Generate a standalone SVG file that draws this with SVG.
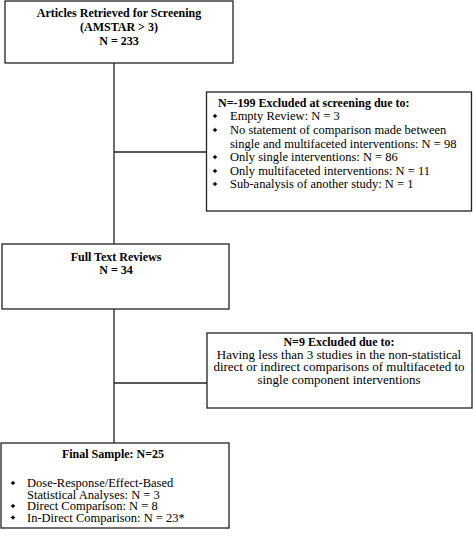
<svg xmlns="http://www.w3.org/2000/svg" width="473" height="537" viewBox="0 0 473 537">
<style>
.box{fill:#fff;stroke:#222;stroke-width:1.3}
.ln{fill:none;stroke:#222;stroke-width:1.3}
text{font-family:"Liberation Serif","Times New Roman",serif;font-size:12.5px;fill:#000}
.b{font-weight:bold;font-size:12px}
.c{text-anchor:middle}
.m{font-size:13px}
.bul{fill:#000}
</style>
<defs>
<path id="bu" d="M0,-2.6 L0.9,-0.9 L2.6,0 L0.9,0.9 L0,2.6 L-0.9,0.9 L-2.6,0 L-0.9,-0.9 Z"/>
</defs>
<g id="connectors">
<path class="ln" d="M114,63 V244 M114,152 H206.5 M114,309 V443 M114,383 H207"/>
</g>
<g id="n1">
<rect class="box" x="5" y="1" width="228" height="62"/>
<text class="b c" x="119" y="17">Articles Retrieved for Screening</text>
<text class="b c" x="119" y="31">(AMSTAR &gt; 3)</text>
<text class="b c" x="119" y="45">N = 233</text>
</g>
<g id="n2">
<rect class="box" x="206.5" y="92" width="265" height="119"/>
<text class="b" x="218" y="107">N=-199 Excluded at screening due to:</text>
<use href="#bu" class="bul" x="215" y="116"/>
<text x="230" y="120">Empty Review: N = 3</text>
<use href="#bu" class="bul" x="215" y="130"/>
<text x="230" y="134">No statement of comparison made between</text>
<text x="230" y="147.5">single and multifaceted interventions: N = 98</text>
<use href="#bu" class="bul" x="215" y="157"/>
<text x="230" y="161">Only single interventions: N = 86</text>
<use href="#bu" class="bul" x="215" y="171"/>
<text x="230" y="175">Only multifaceted interventions: N = 11</text>
<use href="#bu" class="bul" x="215" y="184"/>
<text x="230" y="188">Sub-analysis of another study: N = 1</text>
</g>
<g id="n3">
<rect class="box" x="2" y="244" width="227" height="65"/>
<text class="b c" x="116" y="261">Full Text Reviews</text>
<text class="b c" x="116" y="274">N = 34</text>
</g>
<g id="n4">
<rect class="box" x="207" y="333" width="265" height="75"/>
<text class="b c" x="339" y="346">N=9 Excluded due to:</text>
<text class="c m" x="339" y="358.5">Having less than 3 studies in the non-statistical</text>
<text class="c m" x="339" y="371">direct or indirect comparisons of multifaceted to</text>
<text class="c m" x="339" y="383.5">single component interventions</text>
</g>
<g id="n5">
<rect class="box" x="1" y="443" width="228" height="85"/>
<text class="b c" x="113" y="458">Final Sample: N=25</text>
<use href="#bu" class="bul" x="13" y="483"/>
<text x="27" y="487">Dose-Response/Effect-Based</text>
<text x="27" y="498.5">Statistical Analyses: N = 3</text>
<use href="#bu" class="bul" x="13" y="506"/>
<text x="27" y="510">Direct Comparison: N = 8</text>
<use href="#bu" class="bul" x="13" y="517.5"/>
<text x="27" y="521.5">In-Direct Comparison: N = 23*</text>
</g>
</svg>
